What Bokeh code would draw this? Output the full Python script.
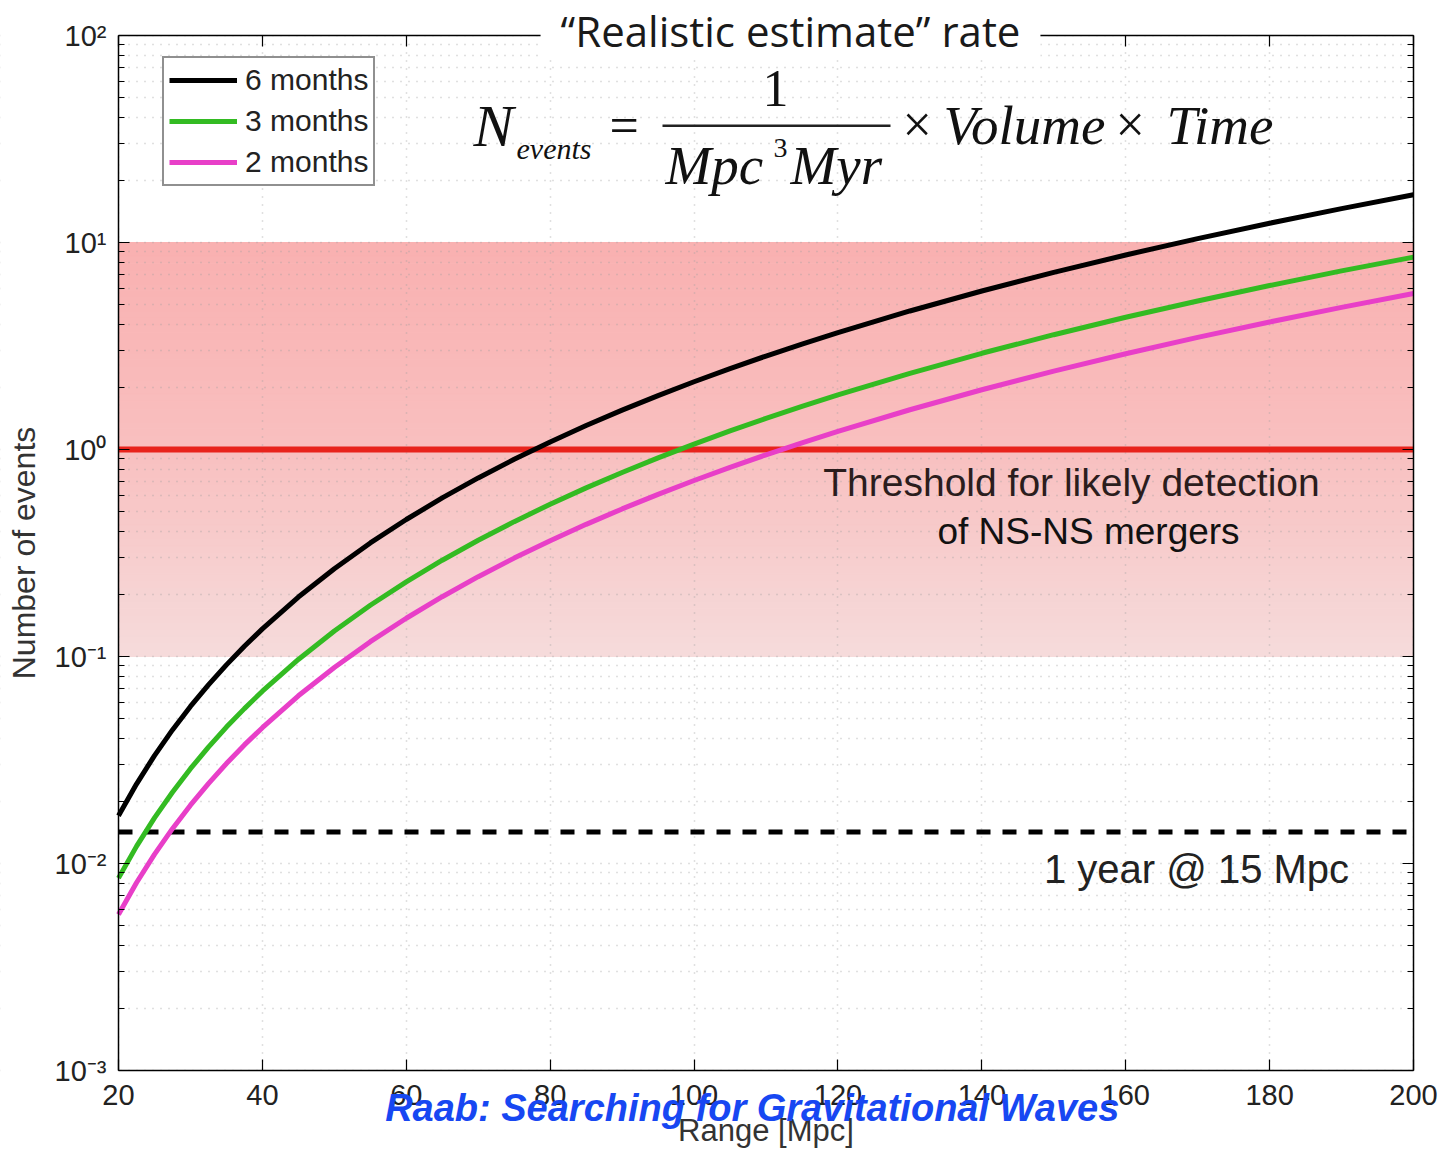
import numpy as np
from bokeh.plotting import figure
from bokeh.models import (Label, BoxAnnotation, FixedTicker, LinearAxis, LogAxis,
                          CustomJSTickFormatter, Range1d)
from bokeh.embed import file_html
from bokeh.resources import INLINE

# ---------------- data ----------------
range_mpc = [20, 22.5, 25, 27.5, 30, 32.5, 35, 37.5, 40, 45, 50, 55, 60, 65, 70, 75, 80, 85, 90,
             95, 100, 105, 110, 115, 120, 130, 140, 150, 160, 170, 180, 190, 200]
events_6mo = [0.0170, 0.0242, 0.0332, 0.0442, 0.0574, 0.0729, 0.0911, 0.1121, 0.136,
              0.1937, 0.2656, 0.3536, 0.459, 0.5836, 0.7289, 0.8965, 1.088, 1.305, 1.549, 1.822,
              2.125, 2.460, 2.828, 3.232, 3.672,
              4.669, 5.831, 7.172, 8.704, 10.44, 12.39, 14.58, 17.0]
events_3mo = [0.0085, 0.0121, 0.0166, 0.0221, 0.0287, 0.0365, 0.0456, 0.0560, 0.068,
              0.0968, 0.1328, 0.1768, 0.2295, 0.2918, 0.3645, 0.4482, 0.544, 0.6525, 0.7745, 0.911,
              1.0625, 1.23, 1.414, 1.616, 1.836,
              2.334, 2.916, 3.586, 4.352, 5.22, 6.195, 7.29, 8.50]
events_2mo = [0.00567, 0.00807, 0.01107, 0.01473, 0.01913, 0.0243, 0.0304, 0.0374, 0.0453,
              0.0646, 0.0885, 0.1179, 0.153, 0.1945, 0.243, 0.2988, 0.3627, 0.435, 0.5163, 0.6073,
              0.7083, 0.82, 0.9427, 1.077, 1.224,
              1.556, 1.944, 2.391, 2.901, 3.48, 4.13, 4.86, 5.67]
series_names = ["6 months", "3 months", "2 months"]
threshold = 1.0
one_year_15mpc = 0.0142
band_low, band_high = 0.1, 10.0
x_lim = (20, 200)
y_lim = (1e-3, 1e2)
x_ticks = [20, 40, 60, 80, 100, 120, 140, 160, 180, 200]
y_ticks = [1e-3, 1e-2, 1e-1, 1e0, 1e1, 1e2]
y_minor = [k * d for d in [1e-3, 1e-2, 1e-1, 1e0, 1e1] for k in range(2, 10)]

# ---------------- geometry ----------------
W, H = 1443, 1149
FL, FR, FT, FB = 118, 1413, 35, 1070  # pixel box of the axes


def fx(px):
    return x_lim[0] + (px - FL) * (x_lim[1] - x_lim[0]) / (FR - FL)


def fy(py):
    l0, l1 = np.log10(y_lim[0]), np.log10(y_lim[1])
    return 10 ** (l0 + (FB - py) * (l1 - l0) / (FB - FT))


# the data frame spans the whole canvas; the axes are pinned to the box edges
p = figure(width=W, height=H, x_range=Range1d(fx(0), fx(W)), y_range=Range1d(fy(H), fy(0)),
           y_axis_type="log", output_backend="svg", toolbar_location=None,
           min_border=0, min_border_left=0, min_border_right=0, min_border_top=0,
           min_border_bottom=0, x_axis_location=None, y_axis_location=None)
p.outline_line_color = None
p.background_fill_color = "white"
p.border_fill_color = "white"

FONT = "Liberation Sans"
SERIF = "Liberation Serif"

xt = FixedTicker(ticks=x_ticks, minor_ticks=[])
yt = FixedTicker(ticks=y_ticks, minor_ticks=y_minor)
sup_js = """
const e = Math.round(Math.log10(tick));
const sup = {"-": "\u207b", "0": "\u2070", "1": "\u00b9", "2": "\u00b2", "3": "\u00b3",
             "4": "\u2074", "5": "\u2075", "6": "\u2076", "7": "\u2077", "8": "\u2078", "9": "\u2079"};
return "10" + String(e).split("").map(c => sup[c]).join("");
"""


def style_axis(ax):
    ax.axis_line_color = "black"
    ax.axis_line_width = 1.5
    ax.major_tick_in = 11
    ax.major_tick_out = 0
    ax.minor_tick_in = 6
    ax.minor_tick_out = 0
    ax.major_tick_line_color = "black"
    ax.minor_tick_line_color = "black"
    ax.major_tick_line_width = 1.2
    ax.minor_tick_line_width = 1.2
    ax.major_label_text_font = FONT
    ax.major_label_text_font_size = "29px"
    ax.major_label_text_color = "#222222"
    ax.axis_label_text_font = FONT
    ax.axis_label_text_font_size = "31px"
    ax.axis_label_text_font_style = "normal"
    ax.axis_label_text_color = "#333333"


xa = LinearAxis(ticker=xt, fixed_location=y_lim[0], bounds=x_lim,
                axis_label="Range [Mpc]")
style_axis(xa)
xa.major_label_standoff = 14
xa.axis_label_standoff = 5
p.add_layout(xa, "below")

ya = LogAxis(ticker=yt, fixed_location=x_lim[0], bounds=y_lim,
             formatter=CustomJSTickFormatter(code=sup_js), axis_label="Number of events")
style_axis(ya)
ya.axis_label_text_font_size = "32px"
ya.major_label_standoff = 12
ya.axis_label_standoff = 10
p.add_layout(ya, "left")

top_ax = LinearAxis(ticker=xt, fixed_location=y_lim[1], bounds=x_lim,
                    major_label_text_alpha=0)
style_axis(top_ax)
p.add_layout(top_ax, "above")
right_ax = LogAxis(ticker=yt, fixed_location=x_lim[1], bounds=y_lim, major_label_text_alpha=0)
style_axis(right_ax)
p.add_layout(right_ax, "right")

# grid (dotted, Matlab style)
p.xgrid.ticker = xt
p.ygrid.ticker = yt
for g in (p.xgrid[0], p.ygrid[0]):
    g.grid_line_color = "#a0a0a0"
    g.grid_line_dash = "1 7"
    g.grid_line_width = 1.5
    g.grid_line_alpha = 0.65
p.ygrid.minor_grid_line_color = "#a0a0a0"
p.ygrid.minor_grid_line_dash = "1 7"
p.ygrid.minor_grid_line_width = 1.5
p.ygrid.minor_grid_line_alpha = 0.65

# white masks so the grid stays inside the axes box
xr0, xr1 = fx(0), fx(W)
yr0, yr1 = fy(H), fy(0)
for kw in [dict(left=xr0, right=xr1, bottom=yr0, top=y_lim[0]),
           dict(left=xr0, right=xr1, bottom=y_lim[1], top=yr1),
           dict(left=xr0, right=x_lim[0], bottom=yr0, top=yr1),
           dict(left=x_lim[1], right=xr1, bottom=yr0, top=yr1)]:
    m = BoxAnnotation(fill_color="white", fill_alpha=1.0, line_color=None, level="underlay", **kw)
    p.add_layout(m)

# ---------------- shaded band (gradient) ----------------
nslices = 60
edges = np.logspace(np.log10(band_low), np.log10(band_high), nslices + 1)
mids = np.log10(np.sqrt(edges[:-1] * edges[1:]))
stops = [-1.0, 0.0, 1.0]
r = np.interp(mids, stops, [246, 249, 249])
gch = np.interp(mids, stops, [220, 192, 177])
b = np.interp(mids, stops, [220, 192, 177])
cols = ["#%02x%02x%02x" % (int(a), int(c), int(d)) for a, c, d in zip(r, gch, b)]
band = p.quad(left=[x_lim[0]] * nslices, right=[x_lim[1]] * nslices,
              bottom=edges[:-1], top=edges[1:], fill_color=cols, line_color=cols, line_width=1)
band.level = "image"

# ---------------- reference lines ----------------
p.line(x_lim, [threshold, threshold], line_color="#e8231c", line_width=6)
p.line(x_lim, [one_year_15mpc, one_year_15mpc], line_color="black", line_width=5,
       line_dash="14 12")

# ---------------- curves ----------------
colors = ["black", "#33bb22", "#e83fc8"]
for vals, name, c in zip([events_6mo, events_3mo, events_2mo], series_names, colors):
    p.line(range_mpc, vals, line_width=5, line_color=c, legend_label=name)

lg = p.legend[0]
lg.location = (162, H - 186)
lg.margin = 0
lg.padding = 5
lg.spacing = 7
lg.label_height = 30
lg.glyph_height = 30
lg.glyph_width = 68
lg.label_standoff = 8
lg.label_text_font = FONT
lg.label_text_font_size = "30px"
lg.label_text_color = "#222222"
lg.border_line_color = "#222222"
lg.border_line_width = 2
lg.background_fill_color = "white"
lg.background_fill_alpha = 1.0


# ---------------- text annotations ----------------
def lab(text, px, py, size, font=FONT, style="normal", align="left", color="#111111", **kw):
    L = Label(x=fx(px), y=fy(py), text=text, text_font=font, text_font_size=f"{size}px",
              text_font_style=style, text_align=align, text_baseline="middle",
              text_color=color, **kw)
    p.add_layout(L)
    return L


lab("\u201cRealistic estimate\u201d rate", 790, 30, 42, font="Open Sans", align="center",
    color="#1a1a1a", background_fill_color="white", padding=(20, 0))

# equation
lab("N", 473, 125, 60, font=SERIF, style="italic")
lab("events", 516, 148, 30, font=SERIF, style="italic")
lab("=", 609, 125, 52, font=SERIF)
lab("1", 775, 88, 52, font=SERIF, align="center")
p.add_layout(BoxAnnotation(left=fx(662), right=fx(890), bottom=fy(126.5), top=fy(124),
                           fill_color="#222222", fill_alpha=1.0, line_color=None))
lab("Mpc", 665, 165, 55, font=SERIF, style="italic")
lab("3", 773, 147, 28, font=SERIF)
lab("Myr", 790, 165, 55, font=SERIF, style="italic")
lab("\u00d7", 902, 124, 52, font=SERIF)
lab("Volume", 943, 125, 55, font=SERIF, style="italic")
lab("\u00d7", 1115, 124, 52, font=SERIF)
lab("Time", 1166, 125, 55, font=SERIF, style="italic")

lab("Threshold for likely detection", 1071, 482, 39, align="center", color="#2b1d1d")
lab("of NS-NS mergers", 1088, 531, 37, align="center", color="#111111")
lab("1 year @ 15 Mpc", 1196, 868, 40, align="center", color="#222222")
lab("Raab:  Searching for Gravitational Waves", 757, 1107, 38, style="bold italic",
    align="center", color="#1747f2")

open("out.html", "w").write(file_html(p, INLINE))
